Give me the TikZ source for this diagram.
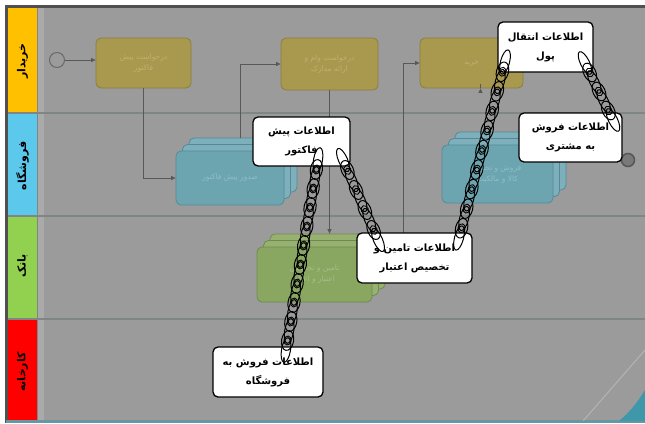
\documentclass[tikz,border=0pt]{standalone}
\usepackage{fontspec}
\usetikzlibrary{shapes.geometric,calc,arrows.meta}
\newfontfamily\arabicfont[Script=Arabic]{DejaVu Sans}
\TeXXeTstate=1
\newcommand\fa[1]{{\arabicfont\beginR #1\endR}}

\definecolor{bg}{HTML}{9B9B9B}
\definecolor{framec}{HTML}{505050}
\definecolor{sepc}{HTML}{808686}
\definecolor{laneY}{HTML}{FFC000}
\definecolor{laneB}{HTML}{5CC8EB}
\definecolor{laneG}{HTML}{92D050}
\definecolor{laneR}{HTML}{FF0000}
\definecolor{taskY}{HTML}{A8994F}
\definecolor{taskYd}{HTML}{8A7D3E}
\definecolor{taskYt}{HTML}{C2B070}
\definecolor{taskB}{HTML}{6CA5B0}
\definecolor{taskBd}{HTML}{55899A}
\definecolor{taskBb}{HTML}{7DB0BA}
\definecolor{taskBt}{HTML}{8FBEC6}
\definecolor{taskG}{HTML}{8AA762}
\definecolor{taskGd}{HTML}{6F8A4E}
\definecolor{taskGb}{HTML}{97B270}
\definecolor{taskGt}{HTML}{A6BE84}
\definecolor{flowc}{HTML}{585858}
\definecolor{cornerc}{HTML}{3F97AA}

% one chain between two points: #1 start, #2 end, #3 number of steps, #4 name prefix
\newcommand\kchain[4]{%
  \path (#1) -- (#2)
    foreach \k [evaluate=\k as \p using \k/#3] in {0,...,#3}
      {node[linkedge, pos=\p, sloped] (#4e\k) {}};
  \path (#1) -- (#2)
    foreach \k [evaluate=\k as \p using (\k-0.5)/#3] in {1,...,#3}
      {node[linkface, pos=\p, sloped] (#4f\k) {}
       node[linkhole, pos=\p, sloped] (#4h\k) {}};
}

\begin{document}
\begin{tikzpicture}[x=1pt,y=-1pt,
  task/.style={rounded corners=5pt, align=center, line width=0.8pt,
    font=\fontsize{7.5}{11}\selectfont, inner sep=2pt},
  ytask/.style={task, fill=taskY, draw=taskYd, text=taskYt},
  btask/.style={task, fill=taskB, draw=taskBd, text=taskBt},
  bback/.style={task, fill=taskBb, draw=taskBd},
  gtask/.style={task, fill=taskG, draw=taskGd, text=taskGt},
  gback/.style={task, fill=taskGb, draw=taskGd},
  flowline/.style={draw=flowc, line width=0.7pt, -{Triangle[length=4.5pt,width=4pt]}},
  lanetext/.style={rotate=90, font=\fontsize{11}{13}\selectfont\bfseries, text=black},
  callout/.style={fill=white, draw=black, line width=1.3pt, rounded corners=5pt,
    align=center, inner sep=2pt, font=\fontsize{10}{19}\selectfont\bfseries},
  linkedge/.style={ellipse, draw=black, line width=1pt, minimum width=25, minimum height=9, inner sep=0pt},
  linkface/.style={ellipse, draw=black, line width=1pt, minimum width=20, minimum height=12, inner sep=0pt},
  linkhole/.style={ellipse, draw=black, line width=0.9pt, minimum width=9, minimum height=7, inner sep=0pt}
]
\useasboundingbox (0,0) rectangle (645,423);
\fill[white] (0,0) rectangle (645,423);
\fill[bg] (6,6) rectangle (645,421);

% lane name column
\fill[laneY] (8,8) rectangle (37,113);
\fill[laneB] (8,113) rectangle (37,216);
\fill[laneG] (8,216) rectangle (37,319);
\fill[laneR] (8,319) rectangle (37,420);
\fill[bg!85!white] (38,8) rectangle (44,420);
\draw[sepc, line width=0.8pt] (37.5,8) -- (37.5,420);
\foreach \yy in {113,216,319}
  \draw[sepc, line width=1.2pt] (8,\yy) -- (645,\yy);

\node[lanetext] (ly) at (22.5,61) {\fa{خریدار}};
\node[lanetext] (lb) at (22.5,166) {\fa{فروشگاه}};
\node[lanetext] (lg) at (22.5,266) {\fa{بانک}};
\node[lanetext] (lr) at (22.5,372) {\fa{کارخانه}};

% frame and bottom edge
\draw[framec, line width=2.5pt] (6.25,423) -- (6.25,6.25) -- (645,6.25);
\fill[cornerc!60!bg] (6,420) rectangle (645,423);
\fill[cornerc] (645,390) .. controls (637,403) and (629,413) .. (619,421) -- (645,421) -- cycle;
\draw[white, opacity=0.25, line width=1pt] (583,421) -- (645,350);

% events
\node[circle, draw=flowc!90!white, fill=bg, line width=1pt, minimum size=15, inner sep=0pt] (st) at (57,60) {};
\node[circle, draw=flowc, fill=flowc!80!white, line width=1.6pt, minimum size=13, inner sep=0pt] (en) at (628,160) {};

% tasks of the buyer lane
\node[ytask, minimum width=95, minimum height=50] (b1) at (143.5,63)
  {\fa{درخواست پیش}\\\fa{فاکتور}};
\node[ytask, minimum width=97, minimum height=52] (b2) at (329.5,64)
  {\fa{درخواست وام و}\\\fa{ارائه مدارک}};
\node[ytask, minimum width=103, minimum height=50] (b3) at (471.5,63)
  {\fa{خرید}};

% stacked tasks of the store lane
\node[bback, minimum width=108, minimum height=54] (b4c) at (243,165) {};
\node[bback, minimum width=108, minimum height=54] (b4b) at (236.5,171.5) {};
\node[btask, minimum width=108, minimum height=54] (b4) at (230,178)
  {\fa{صدور پیش فاکتور}};
\node[bback, minimum width=111, minimum height=58] (b5c) at (510.5,161) {};
\node[bback, minimum width=111, minimum height=58] (b5b) at (504,167.5) {};
\node[btask, minimum width=111, minimum height=58] (b5) at (497.5,174)
  {\fa{فروش و تحویل}\\\fa{کالا و مالکیت}};

% stacked task of the bank lane
\node[gback, minimum width=115, minimum height=55] (b6c) at (327.5,261.5) {};
\node[gback, minimum width=115, minimum height=55] (b6b) at (321,268) {};
\node[gtask, minimum width=115, minimum height=55] (b6) at (314.5,274.5)
  {\fa{تامین و تخصیص}\\\fa{اعتبار و اعلام}};

% sequence flows
\draw[flowline] (st) -- (st -| b1.west);
\draw[flowline] (b1.south) |- (b4.west);
\draw[flowline] ($(b4c.north)+(-3,0)$) |- (b2.west);
\draw[flowline] (b2.south) -- (b2.south |- b6c.north);
\draw[flowline] (b6c.east) -- ++(18,0) |- (b3.west);
\draw[flowline] ($(b3.south)+(9,0)$) -- ($(b3.south)+(9,0)$ |- b5c.north);
\draw[flowline] (b5c.east) -- (en);

% information callouts
\node[callout, minimum width=97, minimum height=49] (c1) at (301.5,141.5)
  {\fa{اطلاعات پیش}\\\fa{فاکتور}};
\node[callout, minimum width=95, minimum height=50] (c2) at (545.5,47)
  {\fa{اطلاعات انتقال}\\\fa{پول}};
\node[callout, minimum width=103, minimum height=49] (c3) at (570.5,137.5)
  {\fa{اطلاعات فروش}\\\fa{به مشتری}};
\node[callout, minimum width=115, minimum height=50] (c4) at (414.5,258)
  {\fa{اطلاعات تامین و}\\\fa{تخصیص اعتبار}};
\node[callout, minimum width=110, minimum height=50] (c5) at (268,372)
  {\fa{اطلاعات فروش به}\\\fa{فروشگاه}};

% chain ends on the callouts
\coordinate (ka1) at (318,160);
\coordinate (ka2) at (286,350);
\coordinate (kb1) at (343,160);
\coordinate (kb2) at (378,240);
\coordinate (kc1) at (505,62);
\coordinate (kc2) at (459,238);
\coordinate (kd1) at (585,63);
\coordinate (kd2) at (613,120);

\kchain{ka1}{ka2}{10}{ka}
\kchain{kb1}{kb2}{4}{kb}
\kchain{kc1}{kc2}{9}{kc}
\kchain{kd1}{kd2}{3}{kd}
\end{tikzpicture}
\end{document}
